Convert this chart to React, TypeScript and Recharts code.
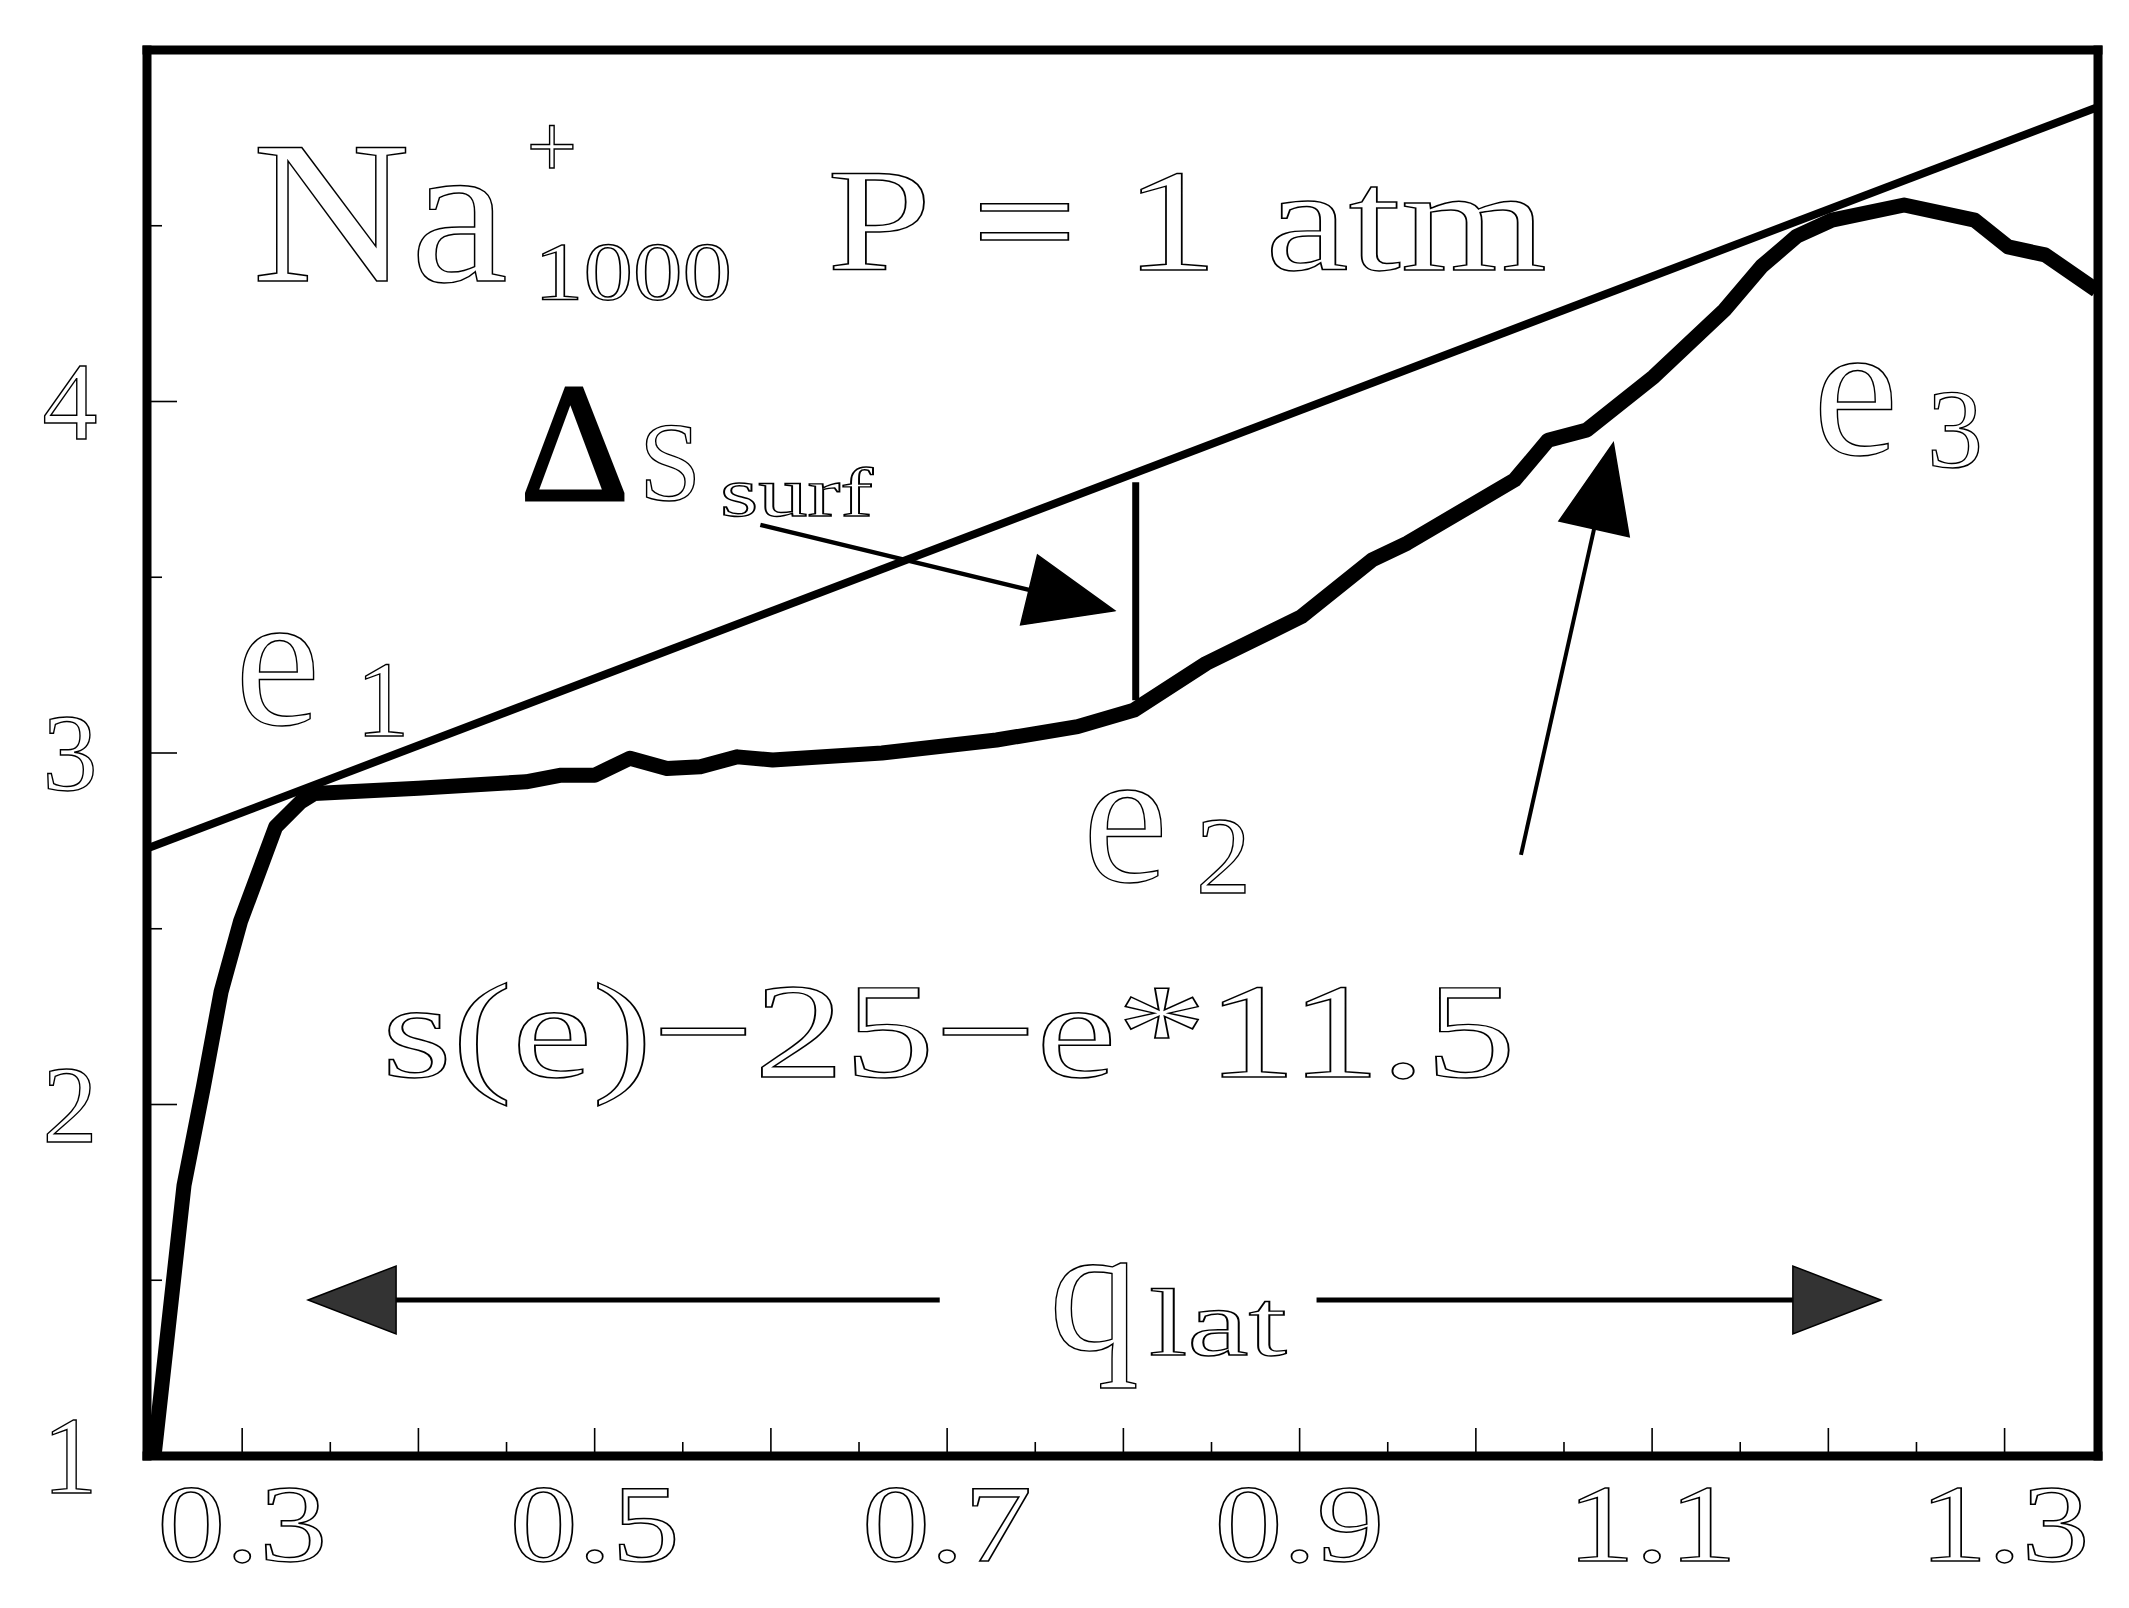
import React from 'react';
import { LineChart, Line, XAxis, YAxis, ReferenceLine, ReferenceDot } from 'recharts';

// s(e) - 25 - e*11.5 curve
const CURVE_X = [
  0.25, 0.267, 0.278, 0.288, 0.299, 0.319, 0.333, 0.341, 0.4, 0.461, 0.481, 0.5, 0.52, 0.541,
  0.56, 0.581, 0.601, 0.663, 0.728, 0.774, 0.806, 0.847, 0.901, 0.941, 0.961, 1.022, 1.041,
  1.063, 1.101, 1.141, 1.162, 1.182, 1.202, 1.243, 1.283, 1.302, 1.323, 1.352,
];
const CURVE_Y = [
  1.0, 1.77, 2.05, 2.32, 2.52, 2.79, 2.86, 2.885, 2.9, 2.918, 2.937, 2.937, 2.985, 2.956,
  2.961, 2.989, 2.98, 3.0, 3.037, 3.075, 3.122, 3.255, 3.388, 3.549, 3.597, 3.777, 3.89,
  3.919, 4.071, 4.26, 4.384, 4.47, 4.516, 4.559, 4.516, 4.44, 4.417, 4.317,
];

// double tangent through e1 and e3
const TANGENT_X = [0.246, 1.353];
const TANGENT_Y = [2.728, 4.838];

// delta s_surf bar at e2
const DS_BAR_X = 0.807;
const DS_BAR_Y = [3.15, 3.77];

const X_DOMAIN = [0.246, 1.353];
const Y_DOMAIN = [1, 5];
const X_TICKS = [0.3, 0.35, 0.4, 0.45, 0.5, 0.55, 0.6, 0.65, 0.7, 0.75, 0.8, 0.85, 0.9, 0.95, 1.0, 1.05, 1.1, 1.15, 1.2, 1.25, 1.3];
const X_LABELS = ['0.3', '0.5', '0.7', '0.9', '1.1', '1.3'];
const Y_TICKS = [1, 1.5, 2, 2.5, 3, 3.5, 4, 4.5, 5];
const Y_LABELS = ['1', '2', '3', '4'];

// arrows as [tailX, tailY, tipX, tipY]
const DS_ARROW = [0.594, 3.649, 0.795, 3.405];
const E3_ARROW = [1.0256, 2.71, 1.078, 3.882];
const Q_LEFT_ARROW = [0.6958, 1.4438, 0.3374, 1.4438];
const Q_RIGHT_ARROW = [0.9096, 1.4438, 1.2298, 1.4438];

// text annotations, anchored in data units (x = start, y = baseline)
const NOTES = [
  { t: 'Na', x: 0.3056, y: 4.343, size: 204, len: 256 },
  { t: '+', x: 0.4758, y: 4.638, size: 90, mid: true },
  { t: '1000', x: 0.4656, y: 4.2916, size: 83, len: 198 },
  { t: 'P = 1 atm', x: 0.6318, y: 4.374, size: 147, len: 720 },
  { t: 'Δ', x: 0.4576, y: 3.7198, size: 170, solid: true },
  { t: 'S', x: 0.5252, y: 3.7198, size: 112 },
  { t: 'surf', x: 0.5711, y: 3.674, size: 70, len: 153 },
  { t: 'e', x: 0.2959, y: 3.0834, size: 192 },
  { t: '1', x: 0.3646, y: 3.0484, size: 107 },
  { t: 'e', x: 0.7769, y: 2.635, size: 192 },
  { t: '2', x: 0.8412, y: 2.6017, size: 110 },
  { t: 'e', x: 1.1913, y: 3.852, size: 192 },
  { t: '3', x: 1.256, y: 3.8137, size: 112 },
  { t: 's(e)−25−e*11.5', x: 0.3792, y: 2.0782, size: 136, len: 1134 },
  { t: 'q', x: 0.7578, y: 1.3016, size: 180 },
  { t: 'lat', x: 0.8145, y: 1.2873, size: 95, len: 138 },
];

const FONT = "Liberation Serif, Times New Roman, Tinos, Times, serif";
const curveData = CURVE_X.map((x, i) => ({ x, s: CURVE_Y[i] }));
const tangentData = TANGENT_X.map((x, i) => ({ x, s: TANGENT_Y[i] }));

const onStep = (v: number, step: number) => Math.abs(v / step - Math.round(v / step)) < 1e-6;
const findLabel = (list: string[], v: number) => list.find((l) => Math.abs(parseFloat(l) - v) < 1e-6);

function OutlineText({ x, y, size, len, mid, solid, children }: any) {
  return (
    <text
      x={x}
      y={y}
      style={{ fontFamily: FONT }}
      fontSize={size}
      textAnchor={mid ? 'middle' : 'start'}
      fill={solid ? '#000' : '#fff'}
      stroke="#000"
      strokeWidth={solid ? 3 : 1.4}
      textLength={len}
      lengthAdjust={len ? 'spacingAndGlyphs' : undefined}
    >
      {children}
    </text>
  );
}

const TICK = { stroke: '#000', strokeWidth: 1.6 };

function BottomTick({ x, y, payload }: any) {
  const v = payload.value;
  const label = findLabel(X_LABELS, v);
  const len = onStep(v, 0.1) ? 28 : 14;
  return (
    <g>
      <line x1={x} y1={y} x2={x} y2={y - len} {...TICK} />
      {label && <OutlineText x={x} y={y + 105} size={110} len={170} mid>{label}</OutlineText>}
    </g>
  );
}

function TopTick({ x, y, payload }: any) {
  const len = onStep(payload.value, 0.1) ? 28 : 14;
  return <line x1={x} y1={y} x2={x} y2={y + len} {...TICK} />;
}

function LeftTick({ x, y, payload }: any) {
  const v = payload.value;
  const label = findLabel(Y_LABELS, v);
  const len = onStep(v, 1) ? 30 : 15;
  return (
    <g>
      <line x1={x} y1={y} x2={x + len} y2={y} {...TICK} />
      {label && <OutlineText x={x - 77} y={y + 37} size={110} mid>{label}</OutlineText>}
    </g>
  );
}

function RightTick({ x, y, payload }: any) {
  const len = onStep(payload.value, 1) ? 30 : 15;
  return <line x1={x} y1={y} x2={x - len} y2={y} {...TICK} />;
}

const arrow = (head: number, half: number, width: number, fill: string) => (p: any) => {
  const { x1, y1, x2, y2 } = p;
  const d = Math.hypot(x2 - x1, y2 - y1) || 1;
  const ux = (x2 - x1) / d;
  const uy = (y2 - y1) / d;
  const bx = x2 - ux * head;
  const by = y2 - uy * head;
  const pts = [
    [x2, y2],
    [bx - uy * half, by + ux * half],
    [bx + uy * half, by - ux * half],
  ]
    .map((q) => q.join(','))
    .join(' ');
  return (
    <g>
      <line x1={x1} y1={y1} x2={bx} y2={by} stroke="#000" strokeWidth={width} />
      <polygon points={pts} fill={fill} stroke="#000" strokeWidth={1.5} />
    </g>
  );
};

const seg = (a: number[]) => [{ x: a[0], y: a[1] }, { x: a[2], y: a[3] }];
const FRAME = { stroke: '#000', strokeWidth: 9, strokeLinecap: 'square' as const };
const AXIS = { tickSize: 0, tickMargin: 0, tickLine: false, interval: 0 as const, axisLine: FRAME };

export default function App() {
  return (
    <div style={{ position: 'absolute', left: 0, top: 0, background: '#fff' }}>
      <LineChart width={2129} height={1608} margin={{ top: 49, right: 30, bottom: 151, left: 146 }}>
        <XAxis type="number" dataKey="x" domain={X_DOMAIN} ticks={X_TICKS} height={1} tick={BottomTick} {...AXIS} />
        <XAxis
          xAxisId="top"
          orientation="top"
          type="number"
          dataKey="x"
          domain={X_DOMAIN}
          ticks={X_TICKS}
          height={1}
          tick={TopTick}
          {...AXIS}
        />
        <YAxis type="number" domain={Y_DOMAIN} ticks={Y_TICKS} width={1} tick={LeftTick} {...AXIS} />
        <YAxis
          yAxisId="right"
          orientation="right"
          type="number"
          domain={Y_DOMAIN}
          ticks={Y_TICKS}
          width={1}
          tick={RightTick}
          {...AXIS}
        />
        <Line
          data={tangentData}
          dataKey="s"
          type="linear"
          stroke="#000"
          strokeWidth={8}
          dot={false}
          activeDot={false}
          isAnimationActive={false}
        />
        <Line
          data={curveData}
          dataKey="s"
          type="linear"
          stroke="#000"
          strokeWidth={15}
          strokeLinejoin="round"
          dot={false}
          activeDot={false}
          isAnimationActive={false}
        />
        <ReferenceLine
          segment={[{ x: DS_BAR_X, y: DS_BAR_Y[0] }, { x: DS_BAR_X, y: DS_BAR_Y[1] }]}
          stroke="#000"
          strokeWidth={7}
        />
        <ReferenceLine segment={seg(DS_ARROW)} shape={arrow(88, 36, 4.5, '#000')} />
        <ReferenceLine segment={seg(E3_ARROW)} shape={arrow(88, 36, 4, '#000')} />
        <ReferenceLine segment={seg(Q_LEFT_ARROW)} shape={arrow(88, 34, 5, '#333')} />
        <ReferenceLine segment={seg(Q_RIGHT_ARROW)} shape={arrow(88, 34, 5, '#333')} />
        {NOTES.map((n, i) => (
          <ReferenceDot
            key={i}
            x={n.x}
            y={n.y}
            ifOverflow="visible"
            shape={(p: any) => (
              <OutlineText x={p.cx} y={p.cy} size={n.size} len={n.len} mid={n.mid} solid={n.solid}>
                {n.t}
              </OutlineText>
            )}
          />
        ))}
      </LineChart>
    </div>
  );
}
